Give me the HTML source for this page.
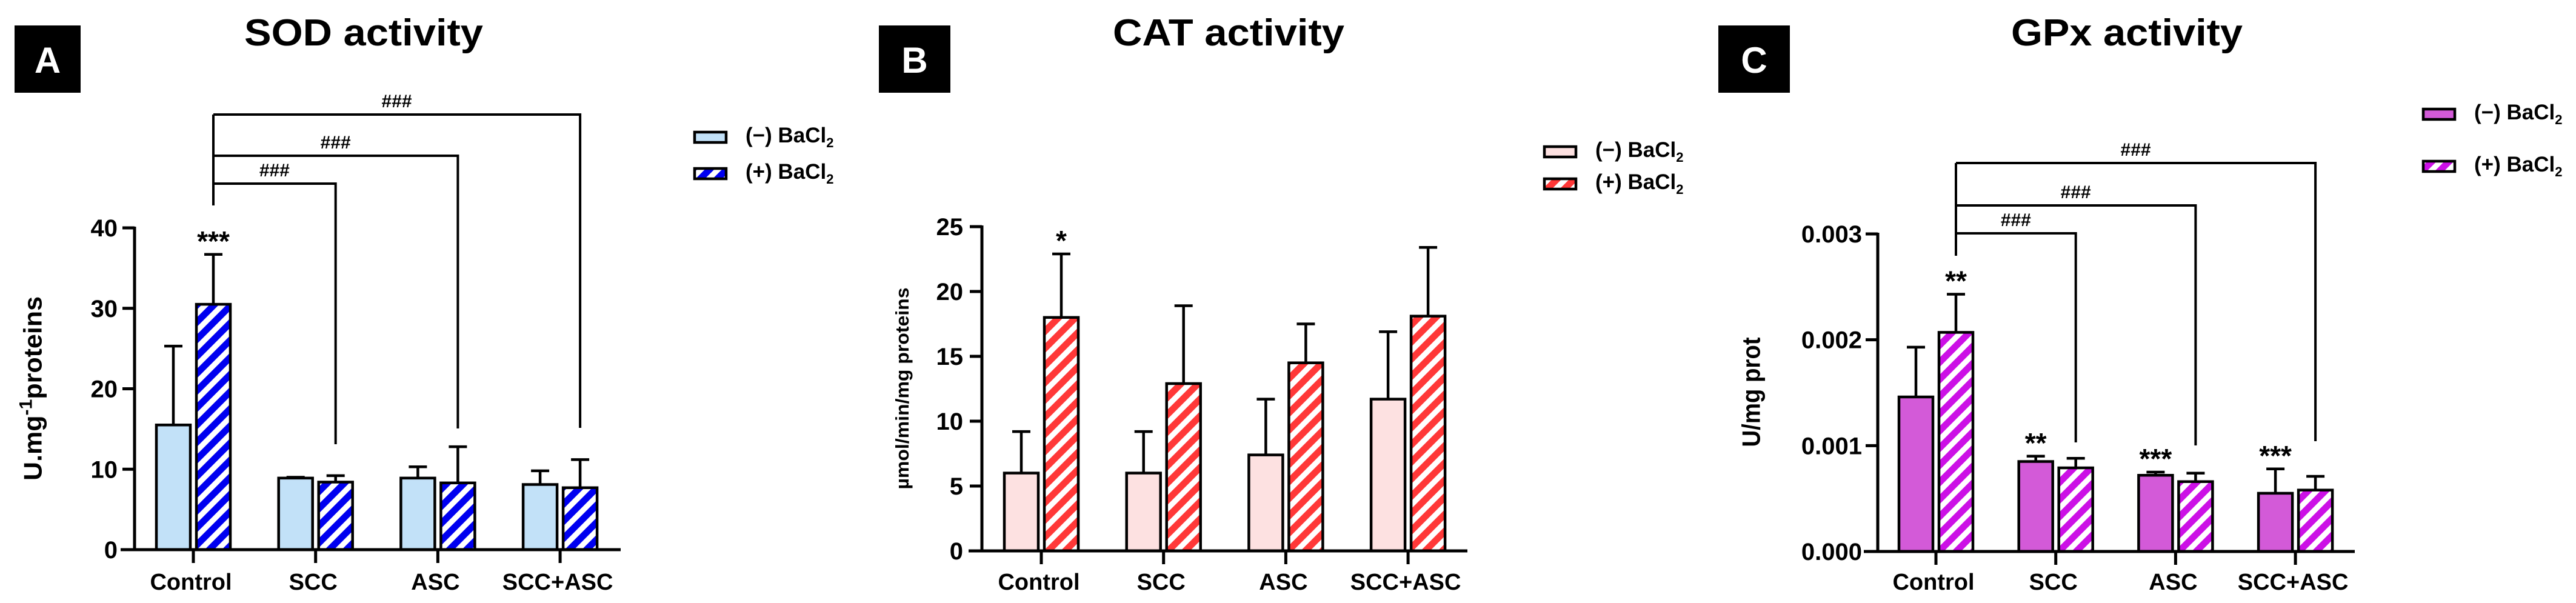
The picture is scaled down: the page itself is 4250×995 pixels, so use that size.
<!DOCTYPE html>
<html><head><meta charset="utf-8"><style>
html,body{margin:0;padding:0;background:#fff;}
svg{display:block;font-family:"Liberation Sans",Arial,sans-serif;}
text{font-weight:bold;}
</style></head><body>
<svg id="fig" width="4250" height="995" viewBox="0 0 4250 995" xmlns="http://www.w3.org/2000/svg">
<defs>
<pattern id="stripe-blue" patternUnits="userSpaceOnUse" width="20" height="20" patternTransform="rotate(45)"><rect width="20" height="20" fill="#ffffff"/><rect width="11" height="20" fill="#0000f0"/></pattern>
<pattern id="stripe-red" patternUnits="userSpaceOnUse" width="20" height="20" patternTransform="rotate(45)"><rect width="20" height="20" fill="#ffffff"/><rect width="11" height="20" fill="#ff3838"/></pattern>
<pattern id="stripe-mag" patternUnits="userSpaceOnUse" width="20" height="20" patternTransform="rotate(45)"><rect width="20" height="20" fill="#ffffff"/><rect width="11" height="20" fill="#cc10e6"/></pattern>
</defs>
</svg>
<script>
// ---- data ----
const categories = ["Control", "SCC", "ASC", "SCC+ASC"];
const sodMinus = [15.5, 8.9, 8.9, 8.1];
const sodMinusErr = [25.3, 9.0, 10.3, 9.8];
const sodPlus = [30.5, 8.4, 8.3, 7.7];
const sodPlusErr = [36.7, 9.2, 12.8, 11.2];
const sodTicks = [0, 10, 20, 30, 40];
const sodTickLabels = ["0", "10", "20", "30", "40"];

const catMinus = [6.0, 6.0, 7.4, 11.7];
const catMinusErr = [9.2, 9.2, 11.7, 16.9];
const catPlus = [18.0, 12.9, 14.5, 18.1];
const catPlusErr = [22.9, 18.9, 17.5, 23.4];
const catTicks = [0, 5, 10, 15, 20, 25];
const catTickLabels = ["0", "5", "10", "15", "20", "25"];

const gpxMinus = [0.00146, 0.00085, 0.00072, 0.00055];
const gpxMinusErr = [0.00193, 0.00090, 0.00075, 0.00078];
const gpxPlus = [0.00207, 0.00079, 0.00066, 0.00058];
const gpxPlusErr = [0.00243, 0.00088, 0.00074, 0.00071];
const gpxTicks = [0, 0.001, 0.002, 0.003];
const gpxTickLabels = ["0.000", "0.001", "0.002", "0.003"];

const sodStars = [["plus", 0, "***"]];
const catStars = [["plus", 0, "*"]];
const gpxStars = [["plus", 0, "**"], ["minus", 1, "**"], ["minus", 2, "***"], ["minus", 3, "***"]];

const NS = "http://www.w3.org/2000/svg";
const svg = document.getElementById("fig");
function mk(tag, attrs, parent, txt) {
  const e = document.createElementNS(NS, tag);
  for (const k in attrs) e.setAttribute(k, attrs[k]);
  if (txt !== undefined) e.textContent = txt;
  (parent || svg).appendChild(e);
  return e;
}

function panel(cfg) {
  const g = mk("g", {});
  
  
  // letter box
  const lb = mk("rect", {x: cfg.box[0], y: 42, width: cfg.box[1] - cfg.box[0], height: 111, fill: "#000"}, g);
  
  
  const lt = mk("text", {x: (cfg.box[0] + cfg.box[1]) / 2, y: 120, "text-anchor": "middle", "font-size": 60, fill: "#fff"}, g, cfg.letter);
  
  
  // title
  const tt = mk("text", {x: cfg.titleX, y: 75, "text-anchor": "middle", "font-size": 62, textLength: cfg.titleW, lengthAdjust: "spacingAndGlyphs"}, g, cfg.title);
  
  

  const yMax = cfg.ticks[cfg.ticks.length - 1];
  const yS = v => cfg.y0 - (v / yMax) * (cfg.y0 - cfg.yTop);
  const xC = i => cfg.x0 + i * cfg.step;
  const barW = 56, off = 33;

  // bars
  const series = [["minus", cfg.minus, cfg.minusErr, cfg.fill1], ["plus", cfg.plus, cfg.plusErr, cfg.fill2]];
  series.forEach(([key, vals, errs, fill], si) => {
    vals.forEach((v, i) => {
      const cx = xC(i) + (si === 0 ? -off : off);
      const top = yS(v), et = yS(errs[i]);
      const eb = mk("line", {x1: cx, x2: cx, y1: top, y2: et, stroke: "#000", "stroke-width": 4.5}, g);
      
      
      const ec = mk("line", {x1: cx - 15, x2: cx + 15, y1: et, y2: et, stroke: "#000", "stroke-width": 4.5}, g);
      
      
      const r = mk("rect", {x: cx - barW / 2, y: top, width: barW, height: cfg.y0 - top, fill: fill, stroke: "#000", "stroke-width": 4.5}, g);
      
      
    });
  });

  // axes
  const ya = mk("line", {x1: cfg.yAxisX, x2: cfg.yAxisX, y1: cfg.yTop - 2, y2: cfg.y0 + 2, stroke: "#000", "stroke-width": 5}, g);
  
  
  const xa = mk("line", {x1: cfg.xAxis[0], x2: cfg.xAxis[1], y1: cfg.y0, y2: cfg.y0, stroke: "#000", "stroke-width": 5}, g);
  
  
  cfg.ticks.forEach((t, i) => {
    const y = yS(t);
    mk("line", {x1: cfg.yAxisX - 20, x2: cfg.yAxisX, y1: y, y2: y, stroke: "#000", "stroke-width": 5}, g);
    const tl = mk("text", {x: cfg.tickRight, y: y + 14, "text-anchor": "end", "font-size": 40}, g, cfg.tickLabels[i]);
    
    
  });
  categories.forEach((c, i) => {
    mk("line", {x1: xC(i), x2: xC(i), y1: cfg.y0, y2: cfg.y0 + 22, stroke: "#000", "stroke-width": 5}, g);
    const cl = mk("text", {x: xC(i) - 4, y: 973, "text-anchor": "middle", "font-size": 38}, g, c);
    
    
  });
  // y title
  const yt = mk("text", {x: 0, y: 0, "text-anchor": "middle", "font-size": cfg.yTitleSize, transform: `translate(${cfg.yTitle[0] + cfg.yTitleSize * 0.35},${cfg.yTitle[1]}) rotate(-90)`, textLength: cfg.yTitleLen, lengthAdjust: "spacingAndGlyphs"}, g);
  
  
  cfg.yTitleParts.forEach(p => {
    const ts = mk("tspan", p[1] ? {"baseline-shift": "super", "font-size": cfg.yTitleSize * 0.7} : {}, yt, p[0]);
  });
  // stars
  cfg.stars.forEach(([key, i, s]) => {
    const cx = xC(i) + (key === "minus" ? -off : off);
    const et = yS((key === "minus" ? cfg.minusErr : cfg.plusErr)[i]);
    const st = mk("text", {x: cx, y: et - 6, "text-anchor": "middle", "font-size": 46}, g, s);
    
    
  });
  // brackets
  if (cfg.brackets) {
    const sx = xC(0) + off;
    const b = cfg.brackets;
    const vs = mk("line", {x1: sx, x2: sx, y1: b.start, y2: b.levels[b.levels.length - 1], stroke: "#000", "stroke-width": 4}, g);
    
    
    b.levels.forEach((ly, k) => {
      const ex = xC(k + 1) + off;
      const p = mk("polyline", {points: `${sx},${ly} ${ex},${ly} ${ex},${b.ends[k]}`, fill: "none", stroke: "#000", "stroke-width": 4}, g);
      
      
      const h = mk("text", {x: (sx + ex) / 2, y: ly - 12, "text-anchor": "middle", "font-size": 30}, g, "###");
      
      
    });
  }
  // legend
  [["(−) BaCl", cfg.fill1, cfg.leg[1]], ["(+) BaCl", cfg.fill2, cfg.leg[2]]].forEach(([lbl, fill, ly], k) => {
    const le = mk("g", {}, g);
    
    
    mk("rect", {x: cfg.leg[0], y: ly, width: 52, height: 17, fill: fill, stroke: "#000", "stroke-width": 4.5}, le);
    const t = mk("text", {x: cfg.leg[0] + 84, y: ly + 17, "font-size": 35}, le, lbl);
    mk("tspan", {"font-size": 22, dy: 8}, t, "2");
  });
}

panel({name: "sod", letter: "A", box: [24, 133], title: "SOD activity", titleX: 600, titleW: 394,
  x0: 319, step: 201.7, yAxisX: 222, xAxis: [199, 1024], y0: 907, yTop: 376, tickRight: 194,
  ticks: sodTicks, tickLabels: sodTickLabels, minus: sodMinus, minusErr: sodMinusErr, plus: sodPlus, plusErr: sodPlusErr,
  fill1: "#c2e1f8", fill2: "url(#stripe-blue)", yTitle: [54, 641], yTitleSize: 42, yTitleLen: 304,
  yTitleParts: [["U.mg", false], ["-1", true], ["proteins", false]], stars: sodStars,
  brackets: {start: 339, levels: [303, 257, 189], ends: [733, 707, 706]}, leg: [1146, 218, 278]});

panel({name: "cat", letter: "B", box: [1450, 1568], title: "CAT activity", titleX: 2027, titleW: 382,
  x0: 1718, step: 201.7, yAxisX: 1620, xAxis: [1598, 2421], y0: 909, yTop: 374, tickRight: 1589,
  ticks: catTicks, tickLabels: catTickLabels, minus: catMinus, minusErr: catMinusErr, plus: catPlus, plusErr: catPlusErr,
  fill1: "#fde1e1", fill2: "url(#stripe-red)", yTitle: [1488, 641], yTitleSize: 31, yTitleLen: 333,
  yTitleParts: [["µmol/min/mg proteins", false]], stars: catStars, brackets: null, leg: [2548, 242, 295]});

panel({name: "gpx", letter: "C", box: [2835, 2953], title: "GPx activity", titleX: 3509, titleW: 382,
  x0: 3194, step: 197.7, yAxisX: 3098, xAxis: [3075, 3885], y0: 910, yTop: 386, tickRight: 3072,
  ticks: gpxTicks, tickLabels: gpxTickLabels, minus: gpxMinus, minusErr: gpxMinusErr, plus: gpxPlus, plusErr: gpxPlusErr,
  fill1: "#d35ad8", fill2: "url(#stripe-mag)", yTitle: [2889, 647], yTitleSize: 42, yTitleLen: 181,
  yTitleParts: [["U/mg prot", false]], stars: gpxStars,
  brackets: {start: 422, levels: [385, 339, 269], ends: [730, 735, 728]}, leg: [3998, 180, 266]});
</script>
</body></html>
